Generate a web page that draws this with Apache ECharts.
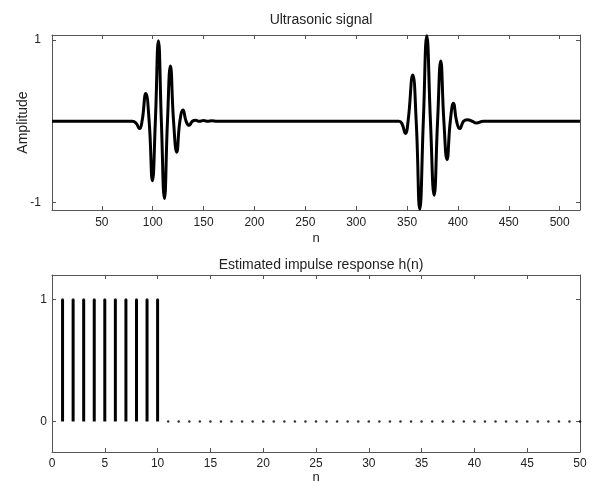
<!DOCTYPE html>
<html>
<head>
<meta charset="utf-8">
<script src="https://cdn.jsdelivr.net/npm/echarts@6/dist/echarts.min.js"></script>
<style>
  html, body { margin: 0; padding: 0; background: #fff; }
  #chart { width: 602px; height: 482px; }
</style>
</head>
<body>
<div id="chart"></div>
<script>
// ultrasonic signal, key samples (n, amplitude)
const signalN = [
  1, 80, 84, 87, 89.5, 93.2, 96.5, 99.7, 102.6, 105.6, 108.5, 111.5, 114.5, 117.4,
  120.5, 123.6, 126.7, 129.8, 132.8, 135.7, 139, 142, 146, 150, 154, 158, 163,
  342, 345, 348.4, 351, 355.6, 359, 362.5, 366, 369.4, 373, 376.6, 380, 383.1,
  386.2, 389.3, 392.5, 395.6, 398.7, 401.8, 405.5, 409.3, 414, 418.2, 425, 520
]
const signalAmp = [
  0, 0, -0.03, -0.09, 0, 0.34, 0, -0.73, 0, 0.99, 0, -0.95, 0, 0.68,
  0, -0.38, 0, 0.14, 0, -0.05, 0, 0.012, 0, 0.01, 0, 0.006, 0,
  0, -0.03, -0.15, 0, 0.57, 0, -1.08, 0, 1.05, 0, -0.91, 0, 0.74,
  0, -0.47, 0, 0.22, 0, -0.09, 0, 0.02, 0, -0.02, 0, 0
]
const signalTicksX = [50, 100, 150, 200, 250, 300, 350, 400, 450, 500]
const signalTicksY = [-1, 1]

// estimated impulse response
const hN = Array.from({ length: 50 }, (_, i) => i + 1)
const hValues = [
  1, 1, 1, 1, 1, 1, 1, 1, 1, 1,
  0, 0, 0, 0, 0, 0, 0, 0, 0, 0,
  0, 0, 0, 0, 0, 0, 0, 0, 0, 0,
  0, 0, 0, 0, 0, 0, 0, 0, 0, 0,
  0, 0, 0, 0, 0, 0, 0, 0, 0, 0
]
const hTicksY = [0, 1]

const FONT = 'Liberation Sans, Arial, sans-serif'
const FRAME = '#555'
const TEXT = '#222'

function frameAxis(extra) {
  return Object.assign({
    type: 'value',
    axisLine: { show: true, onZero: false, lineStyle: { color: FRAME, width: 1 } },
    axisTick: { show: true, inside: true, length: 4, lineStyle: { color: FRAME } },
    axisLabel: { show: false },
    splitLine: { show: false },
  }, extra)
}

function ticks(custom) {
  return { show: true, inside: true, length: 4, lineStyle: { color: FRAME }, customValues: custom }
}

function labels(custom, margin) {
  return { show: true, color: TEXT, fontSize: 12, fontFamily: FONT, margin, customValues: custom }
}

const nameStyle = { color: TEXT, fontSize: 13, fontFamily: FONT }
const titleStyle = { fontSize: 14, fontWeight: 'normal', color: TEXT, fontFamily: FONT }

const chart = echarts.init(document.getElementById('chart'), null, { renderer: 'canvas' })

chart.setOption({
  animation: false,
  backgroundColor: '#fff',
  textStyle: { fontFamily: FONT },
  title: [
    { text: 'Ultrasonic signal', left: 316, top: 8, textAlign: 'center', textStyle: titleStyle },
    { text: 'Estimated impulse response h(n)', left: 316, top: 253, textAlign: 'center', textStyle: titleStyle },
  ],
  grid: [
    { left: 52, right: 22, top: 35, height: 175, outerBoundsMode: 'none', containLabel: false },
    { left: 52, right: 22, top: 275, height: 177, outerBoundsMode: 'none', containLabel: false },
  ],
  xAxis: [
    frameAxis({ gridIndex: 0, position: 'bottom', min: 1, max: 520,
      axisTick: ticks(signalTicksX),
      axisLabel: labels(signalTicksX, 7),
      name: 'n', nameLocation: 'middle', nameGap: 22, nameMoveOverlap: false, nameTextStyle: nameStyle }),
    frameAxis({ gridIndex: 0, position: 'top', min: 1, max: 520, axisTick: ticks(signalTicksX) }),
    frameAxis({ gridIndex: 1, position: 'bottom', min: 0, max: 50, interval: 5,
      axisLabel: { show: true, color: TEXT, fontSize: 12, fontFamily: FONT, margin: 6 },
      name: 'n', nameLocation: 'middle', nameGap: 19, nameMoveOverlap: false, nameTextStyle: nameStyle }),
    frameAxis({ gridIndex: 1, position: 'top', min: 0, max: 50, interval: 5 }),
  ],
  yAxis: [
    frameAxis({ gridIndex: 0, position: 'left', min: -1.09, max: 1.06,
      axisTick: ticks(signalTicksY),
      axisLabel: labels(signalTicksY, 11),
      name: 'Amplitude', nameLocation: 'middle', nameGap: 22, nameMoveOverlap: false,
      nameTextStyle: { color: TEXT, fontSize: 14, fontFamily: FONT } }),
    frameAxis({ gridIndex: 0, position: 'right', min: -1.09, max: 1.06, axisTick: ticks(signalTicksY) }),
    frameAxis({ gridIndex: 1, position: 'left', min: -0.25, max: 1.2,
      axisTick: ticks(hTicksY),
      axisLabel: labels(hTicksY, 5) }),
    frameAxis({ gridIndex: 1, position: 'right', min: -0.25, max: 1.2, axisTick: ticks(hTicksY) }),
  ],
  series: [
    {
      type: 'line',
      xAxisIndex: 0,
      yAxisIndex: 0,
      data: signalN.map((n, i) => [n, signalAmp[i]]),
      showSymbol: false,
      smooth: 0.5,
      clip: false,
      lineStyle: { color: '#000', width: 3 },
    },
    {
      type: 'bar',
      xAxisIndex: 2,
      yAxisIndex: 2,
      data: hN.map((n, i) => [n, hValues[i]]),
      barWidth: 3,
      itemStyle: { color: '#000' },
    },
    {
      type: 'scatter',
      xAxisIndex: 2,
      yAxisIndex: 2,
      data: hN.map((n, i) => [n, hValues[i]]),
      symbol: 'circle',
      symbolSize: 2.5,
      itemStyle: { color: '#000' },
    },
  ],
})
</script>
</body>
</html>
